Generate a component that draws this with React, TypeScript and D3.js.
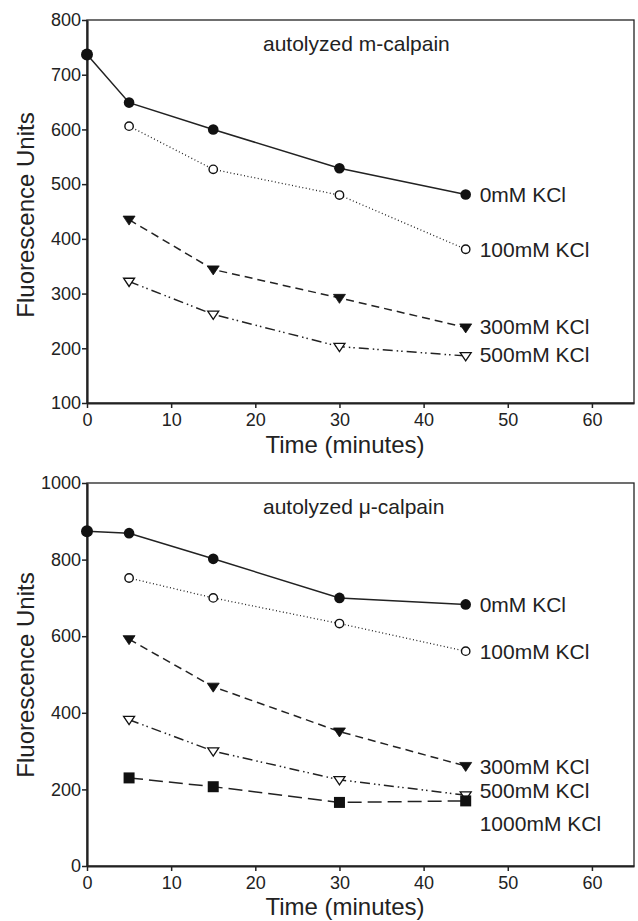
import React, { useEffect, useRef } from "react";
import * as d3 from "d3";

const timesTop0 = [0, 5, 15, 30, 45];
const times = [5, 15, 30, 45];

const mCal0 = [737, 649, 600, 529, 481];
const mCal100 = [606, 527, 480, 381];
const mCal300 = [435, 344, 292, 238];
const mCal500 = [322, 262, 203, 186];

const uCal0 = [874, 869, 802, 700, 683];
const uCal100 = [752, 700, 633, 561];
const uCal300 = [592, 468, 351, 261];
const uCal500 = [382, 300, 225, 185];
const uCal1000 = [230, 207, 166, 170];

const seriesLabels = ["0mM KCl", "100mM KCl", "300mM KCl", "500mM KCl", "1000mM KCl"];
const xTicks = [0, 10, 20, 30, 40, 50, 60];
const yTicksTop = [100, 200, 300, 400, 500, 600, 700, 800];
const yTicksBottom = [0, 200, 400, 600, 800, 1000];

type MarkerKind = "fcircle" | "ocircle" | "ftri" | "otri" | "fsquare";

interface Series {
  x: number[];
  y: number[];
  dash: string;
  marker: MarkerKind;
  label: string;
  labelDy: number;
}

const FONT = "'Liberation Sans', Arial, Helvetica, sans-serif";

function drawPanel(
  svg: d3.Selection<SVGSVGElement, unknown, null, undefined>,
  opts: {
    top: number;
    bottom: number;
    yDomain: [number, number];
    yTicks: number[];
    title: string;
    series: Series[];
    xLabelY: number;
    yLabelY: number;
  }
) {
  const left = 87;
  const right = 634;
  const x = d3.scaleLinear().domain([0, 65]).range([left, right]);
  const y = d3.scaleLinear().domain(opts.yDomain).range([opts.bottom, opts.top]);
  const g = svg.append("g");

  g.append("rect")
    .attr("x", left)
    .attr("y", opts.top)
    .attr("width", right - left)
    .attr("height", opts.bottom - opts.top)
    .attr("fill", "none")
    .attr("stroke", "#222")
    .attr("stroke-width", 1.3);

  const xAxis = d3
    .axisBottom(x)
    .tickValues(xTicks)
    .tickFormat(d3.format("d"))
    .tickSize(5)
    .tickPadding(5)
    .tickSizeOuter(0);
  const xg = g.append("g").attr("transform", `translate(0,${opts.bottom})`).call(xAxis);
  const yAxis = d3
    .axisLeft(y)
    .tickValues(opts.yTicks)
    .tickFormat(d3.format("d"))
    .tickSize(5)
    .tickPadding(1)
    .tickSizeOuter(0);
  const yg = g.append("g").attr("transform", `translate(${left},0)`).call(yAxis);
  [xg, yg].forEach((ax) => {
    ax.select(".domain").attr("stroke", "#222").attr("stroke-width", 2.2);
    ax.selectAll(".tick line").attr("stroke", "#222").attr("stroke-width", 1.5);
    ax.selectAll(".tick text")
      .attr("fill", "#222")
      .style("font-family", FONT)
      .style("font-size", "18px");
  });

  g.append("text")
    .attr("x", 345)
    .attr("y", opts.xLabelY)
    .attr("text-anchor", "middle")
    .attr("fill", "#222")
    .style("font-family", FONT)
    .style("font-size", "24px")
    .text("Time (minutes)");

  g.append("text")
    .attr("transform", `translate(34,${opts.yLabelY}) rotate(-90)`)
    .attr("text-anchor", "middle")
    .attr("fill", "#222")
    .style("font-family", FONT)
    .style("font-size", "24px")
    .text("Fluorescence Units");

  g.append("text")
    .attr("x", 263)
    .attr("y", opts.top + 31)
    .attr("fill", "#222")
    .style("font-family", FONT)
    .style("font-size", "21px")
    .text(opts.title);

  const line = d3
    .line<[number, number]>()
    .x((d) => x(d[0]))
    .y((d) => y(d[1]));

  opts.series.forEach((s) => {
    const pts: [number, number][] = s.x.map((xv, i) => [xv, s.y[i]]);
    g.append("path")
      .attr("d", line(pts) as string)
      .attr("fill", "none")
      .attr("stroke", "#222")
      .attr("stroke-width", s.dash === "1,2.5" ? 1.3 : 1.5)
      .attr("stroke-dasharray", s.dash);

    pts.forEach(([xv, yv], i) => {
      const cx = x(xv);
      const cy = y(yv);
      if (s.marker === "fcircle") {
        g.append("circle")
          .attr("cx", cx)
          .attr("cy", cy)
          .attr("r", i === 0 ? 6 : 5.3)
          .attr("fill", "#111");
      } else if (s.marker === "ocircle") {
        g.append("circle")
          .attr("cx", cx)
          .attr("cy", cy)
          .attr("r", 4.2)
          .attr("fill", "#fff")
          .attr("stroke", "#111")
          .attr("stroke-width", 1.4);
      } else if (s.marker === "ftri" || s.marker === "otri") {
        const sz = s.marker === "ftri" ? 6 : 5.5;
        const p = `M${cx - sz},${cy - sz * 0.6}L${cx + sz},${cy - sz * 0.6}L${cx},${cy + sz * 0.9}Z`;
        g.append("path")
          .attr("d", p)
          .attr("fill", s.marker === "ftri" ? "#111" : "#fff")
          .attr("stroke", "#111")
          .attr("stroke-width", s.marker === "ftri" ? 0.8 : 1.3);
      } else {
        g.append("rect")
          .attr("x", cx - 5.5)
          .attr("y", cy - 5.5)
          .attr("width", 11)
          .attr("height", 11)
          .attr("fill", "#111");
      }
    });

    const last = pts[pts.length - 1];
    g.append("text")
      .attr("x", x(last[0]) + 14)
      .attr("y", y(last[1]) + s.labelDy)
      .attr("dy", "0.36em")
      .attr("fill", "#222")
      .style("font-family", FONT)
      .style("font-size", "21px")
      .text(s.label);
  });
}

export default function App() {
  const ref = useRef<SVGSVGElement>(null);
  useEffect(() => {
    const svg = d3.select(ref.current as SVGSVGElement);
    svg.selectAll("*").remove();
    svg.append("rect").attr("width", 638).attr("height", 921).attr("fill", "#fff");

    drawPanel(svg, {
      top: 20,
      bottom: 403,
      yDomain: [100, 800],
      yTicks: yTicksTop,
      title: "autolyzed m-calpain",
      xLabelY: 453,
      yLabelY: 215,
      series: [
        { x: timesTop0, y: mCal0, dash: "", marker: "fcircle", label: seriesLabels[0], labelDy: 0 },
        { x: times, y: mCal100, dash: "1,2.5", marker: "ocircle", label: seriesLabels[1], labelDy: 0 },
        { x: times, y: mCal300, dash: "8,5", marker: "ftri", label: seriesLabels[2], labelDy: -1 },
        { x: times, y: mCal500, dash: "10,4,1.5,3,1.5,4", marker: "otri", label: seriesLabels[3], labelDy: -2 },
      ],
    });

    drawPanel(svg, {
      top: 483,
      bottom: 866,
      yDomain: [0, 1000],
      yTicks: yTicksBottom,
      title: "autolyzed μ-calpain",
      xLabelY: 915,
      yLabelY: 675,
      series: [
        { x: timesTop0, y: uCal0, dash: "", marker: "fcircle", label: seriesLabels[0], labelDy: 0 },
        { x: times, y: uCal100, dash: "1,2.5", marker: "ocircle", label: seriesLabels[1], labelDy: 0 },
        { x: times, y: uCal300, dash: "8,5", marker: "ftri", label: seriesLabels[2], labelDy: 0 },
        { x: times, y: uCal500, dash: "10,4,1.5,3,1.5,4", marker: "otri", label: seriesLabels[3], labelDy: -5 },
        { x: times, y: uCal1000, dash: "14,6", marker: "fsquare", label: seriesLabels[4], labelDy: 23 },
      ],
    });
  }, []);

  return (
    <svg
      ref={ref}
      width={638}
      height={921}
      style={{ position: "absolute", left: 0, top: 0, display: "block" }}
    />
  );
}
